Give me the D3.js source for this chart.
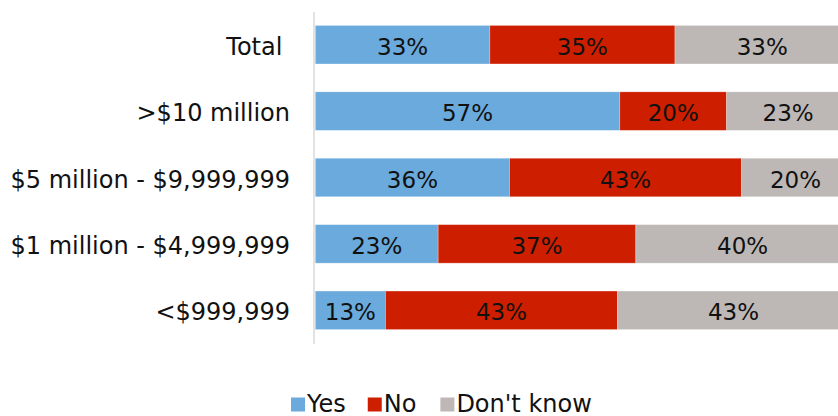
<!DOCTYPE html>
<html>
<head>
<meta charset="utf-8">
<script src="https://cdn.jsdelivr.net/npm/d3@7/dist/d3.min.js"></script>
<style>
  html, body { margin: 0; padding: 0; background: #ffffff; }
  svg { display: block; }
  text { font-family: "DejaVu Sans", "Noto Sans", sans-serif; fill: #111111; }
</style>
</head>
<body>
<svg id="chart" width="838" height="416"></svg>
<script>
// ---- data ----
const categories = ["Total ", ">$10 million", "$5 million - $9,999,999", "$1 million - $4,999,999", "<$999,999"];
const seriesNames = ["Yes", "No", "Don't know"];
const yesValues = [33, 57, 36, 23, 13];
const noValues = [35, 20, 43, 37, 43];
const dontKnowValues = [33, 23, 20, 40, 43];
const seriesColors = ["#6aaadc", "#cd1f00", "#bdb8b6"];

const rows = categories.map((c, i) => ({
  category: c,
  "Yes": yesValues[i],
  "No": noValues[i],
  "Don't know": dontKnowValues[i]
}));

const svg = d3.select("#chart");
const valueFont = 23;
const labelFont = 24;

const x = d3.scaleLinear().domain([0, 1]).range([315.3, 849.5]);
const y = d3.scaleBand().domain(categories).range([11.5, 343.5]).paddingInner(0.42).paddingOuter(0.21);
const color = d3.scaleOrdinal().domain(seriesNames).range(seriesColors);

const stacked = d3.stack().keys(seriesNames).offset(d3.stackOffsetExpand)(rows);

const plot = svg.append("g");

const layers = plot.selectAll("g.layer")
  .data(stacked)
  .join("g")
  .attr("class", "layer")
  .attr("fill", d => color(d.key));

layers.selectAll("rect")
  .data(d => d.map(v => ({ v, key: d.key })))
  .join("rect")
  .attr("x", d => x(d.v[0]))
  .attr("width", d => x(d.v[1]) - x(d.v[0]))
  .attr("y", d => y(d.v.data.category))
  .attr("height", y.bandwidth())
  .attr("stroke", "#ffffff")
  .attr("stroke-opacity", 0.35)
  .attr("stroke-width", 0.75);

// value labels
layers.selectAll("text")
  .data(d => d.map(v => ({ v, key: d.key })))
  .join("text")
  .attr("x", d => (x(d.v[0]) + x(d.v[1])) / 2)
  .attr("y", d => y(d.v.data.category) + y.bandwidth() / 2)
  .attr("dy", "0.44em")
  .attr("text-anchor", "middle")
  .style("font-size", valueFont + "px")
  .text(d => d.v.data[d.key] + "%");

// category axis
const yAxis = d3.axisLeft(y).tickSize(0).tickPadding(24);
const axisG = svg.append("g")
  .attr("transform", "translate(314,0)")
  .call(yAxis);
axisG.select(".domain")
  .attr("d", "M0," + 12 + "V" + 344)
  .attr("stroke", "#d9d9d9")
  .attr("stroke-width", 1.5);
axisG.selectAll(".tick text")
  .attr("dy", "0.42em")
  .style("font-size", labelFont + "px")
  .style("font-family", "\"DejaVu Sans\", \"Noto Sans\", sans-serif")
  .style("fill", "#111111")
  .style("white-space", "pre")
  .attr("xml:space", "preserve");

// legend
const legend = svg.append("g").attr("transform", "translate(291,0)");
let cursor = 0;
const gaps = [22, 24, 0];
seriesNames.forEach((name, i) => {
  const item = legend.append("g").attr("transform", "translate(" + cursor + ",0)");
  item.append("rect")
    .attr("x", 0).attr("y", 397.5)
    .attr("width", 14).attr("height", 14)
    .attr("fill", color(name));
  const t = item.append("text")
    .attr("x", 16).attr("y", 411.5)
    .style("font-size", labelFont + "px")
    .text(name);
  const w = t.node().getComputedTextLength();
  cursor += 16 + w + gaps[i];
});
</script>
</body>
</html>
